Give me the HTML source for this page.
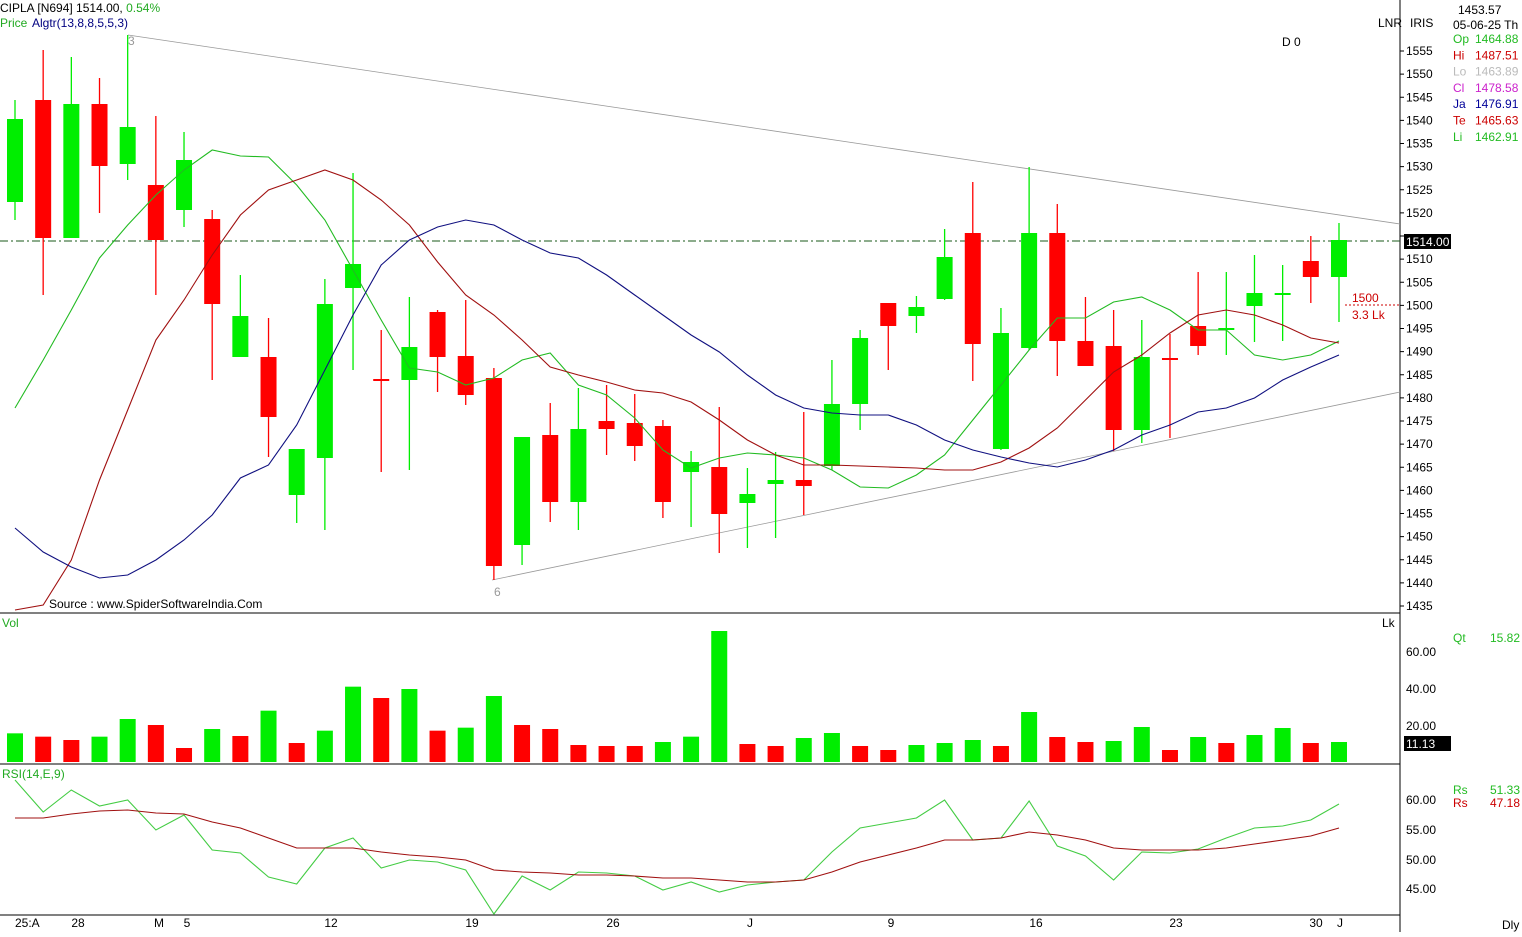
<!DOCTYPE html><html><head><meta charset="utf-8"><style>
body{margin:0;background:#fff;width:1522px;height:932px;overflow:hidden;font-family:"Liberation Sans",sans-serif}
svg text{font-family:"Liberation Sans",sans-serif;font-size:12px}
</style></head><body>
<svg id="s" width="1522" height="932" xmlns="http://www.w3.org/2000/svg"></svg>
<script>
const s=document.getElementById('s');let h='';
const X=[];for(let i=0;i<48;i++)X.push(15+i*28.17);
const G='#00ee00',R='#ff0000';
// candles: bodyTop, bodyBot, wickTop, wickBot, color
const C=[[119,202,100,220,G],[100,238,50,295,R],[104,238,57,238,G],[104,166,78,213,R],[127,164,35,180,G],[185,240,116,295,R],[160,210,132,227,G],[219,304,210,380,R],[316,357,275,357,G],[357,417,318,457,R],[449,495,449,523,G],[304,458,279,530,G],[264,288,173,370,G],[379,381,330,472,R],[347,380,297,470,G],[312,357,310,392,R],[356,395,300,405,R],[378,566,368,580,R],[437,545,437,565,G],[435,502,403,522,R],[429,502,388,530,G],[421,429,385,455,R],[423,446,394,461,R],[426,502,420,518,R],[462,472,451,527,G],[467,514,407,553,R],[494,503,468,548,G],[480,484,452,538,G],[480,486,412,515,R],[404,466,360,470,G],[338,404,330,430,G],[303,326,303,370,R],[307,316,296,333,G],[257,299,229,300,G],[233,344,182,381,R],[333,449,308,450,G],[233,348,167,350,G],[233,341,204,376,R],[341,366,297,366,R],[346,430,310,451,R],[357,430,320,443,G],[358,360,334,438,R],[326,346,272,355,R],[328,330,272,355,G],[293,306,255,342,G],[293,295,265,341,G],[261,277,236,303,R],[240,277,223,322,G]];
// frames
h+='<line x1="0" y1="613" x2="1400" y2="613" stroke="#000"/><line x1="0" y1="764" x2="1400" y2="764" stroke="#000"/><line x1="0" y1="915" x2="1400" y2="915" stroke="#000"/><line x1="1400" y1="0" x2="1400" y2="932" stroke="#000"/>';
// trendlines
h+='<line x1="128" y1="35" x2="1400" y2="224" stroke="#999" stroke-width="0.8"/><line x1="492" y1="580" x2="1400" y2="392" stroke="#999" stroke-width="0.8"/>';
h+='<line x1="0" y1="241" x2="1400" y2="241" stroke="#1a5a1a" stroke-dasharray="8,3,2,3"/>';
function pl(p,c){return '<polyline fill="none" stroke="'+c+'" stroke-width="1.1" points="'+p.map((v,i)=>X[i].toFixed(1)+','+v).join(' ')+'"/>';}
const GL=[408,360,310,258,225,195,170,150,156,157,185,220,270,320,368,372,385,378,360,353,385,395,418,450,468,458,453,455,458,470,487,488,475,455,420,385,350,318,318,302,297,310,330,330,355,360,355,341];
const RL=[610,605,560,480,410,340,300,255,215,190,180,170,180,200,225,262,295,315,340,367,375,382,390,393,402,420,440,455,465,465,466,467,468,470,470,462,448,428,400,372,355,333,315,310,315,325,338,343];
const BL=[528,552,567,578,575,560,540,515,478,465,425,370,315,265,240,227,220,225,240,253,258,275,295,315,335,352,375,395,408,413,415,415,425,440,450,457,463,467,460,450,435,425,412,408,398,380,367,355];
C.forEach((c,i)=>{const x=X[i];h+='<line x1="'+x+'" y1="'+c[2]+'" x2="'+x+'" y2="'+c[3]+'" stroke="'+c[4]+'" stroke-width="1.3"/>';h+='<rect x="'+(x-8)+'" y="'+c[0]+'" width="16" height="'+Math.max(2,c[1]-c[0])+'" fill="'+c[4]+'"/>';});
h+=pl(GL,'#22bb22')+pl(RL,'#a01010')+pl(BL,'#101080');
// volume
const V=[[340,G],[350,R],[360,R],[350,G],[297,G],[315,R],[384,R],[327,G],[348,R],[272,G],[369,R],[332,G],[200,G],[234,R],[207,G],[332,R],[323,G],[228,G],[315,R],[327,R],[375,R],[378,R],[378,R],[366,G],[350,G],[33,G],[372,R],[378,R],[354,G],[339,G],[378,R],[390,R],[375,G],[369,G],[360,G],[378,R],[276,G],[351,R],[366,R],[363,G],[321,G],[390,R],[351,G],[369,R],[345,G],[324,G],[369,R],[366,G]];
V.forEach((v,i)=>{const y=620+v[0]/3;h+='<rect x="'+(X[i]-8)+'" y="'+y+'" width="16" height="'+(762-y)+'" fill="'+v[1]+'"/>';});
// RSI
const RG=[780,812,790,806,800,830,815,850,853,877,884,848,838,868,860,862,870,914,876,890,872,873,876,890,882,892,885,882,880,852,828,823,818,800,840,838,801,846,856,880,852,853,849,838,828,826,820,804];
const RR=[818,818,814,811,810,813,814,822,828,838,848,848,848,852,855,857,860,870,872,873,875,875,876,878,878,880,882,882,880,872,862,855,848,840,840,838,832,835,840,848,850,850,850,848,844,840,836,828];
h+=pl(RG,'#44cc44')+pl(RR,'#a01010');
// right axis price
for(let p=1555;p>=1435;p-=5){const y=51+(1555-p)*4.625;h+='<line x1="1400" y1="'+y+'" x2="1404" y2="'+y+'" stroke="#000"/>';if(p!=1515)h+='<text x="1406" y="'+(y+4)+'">'+p+'</text>';}
h+='<rect x="1404" y="234" width="47" height="15" fill="#000"/><text x="1406" y="246" fill="#fff">1514.00</text>';
[[60,652],[40,689],[20,726]].forEach(a=>h+='<text x="1406" y="'+(a[1]+4)+'">'+a[0]+'.00</text>');
h+='<rect x="1404" y="736" width="47" height="15" fill="#000"/><text x="1406" y="748" fill="#fff">11.13</text>';
[[60,800],[55,830],[50,860],[45,889]].forEach(a=>h+='<text x="1406" y="'+(a[1]+4)+'">'+a[0]+'.00</text>');
// x labels
[['25:A',15],['28',78],['M',159],['5',187],['12',331],['19',472],['26',613],['J',750],['9',891],['16',1036],['23',1176],['30',1316],['J',1340]].forEach(a=>h+='<text x="'+a[1]+'" y="927" text-anchor="'+(a[0]=='25:A'?'start':'middle')+'">'+a[0]+'</text>');
h+='<text x="1502" y="929">Dly</text>';
// headers
h+='<text x="0" y="12">CIPLA [N694] 1514.00, <tspan fill="#22aa22">0.54%</tspan></text>';
h+='<text x="0" y="27" fill="#22aa22">Price</text><text x="32" y="27" fill="#000080">Algtr(13,8,8,5,5,3)</text>';
h+='<text x="49" y="608">Source : www.SpiderSoftwareIndia.Com</text>';
h+='<text x="2" y="627" fill="#22aa22">Vol</text><text x="2" y="778" fill="#22aa22">RSI(14,E,9)</text>';
h+='<text x="1382" y="627">Lk</text><text x="1378" y="27">LNR</text><text x="1410" y="27">IRIS</text><text x="1282" y="46">D 0</text>';
h+='<text x="128" y="45" fill="#999" font-size="11">3</text><text x="494" y="596" fill="#999" font-size="11">6</text>';
h+='<text x="1352" y="302" fill="#c00">1500</text><text x="1352" y="319" fill="#c00">3.3 Lk</text><line x1="1345" y1="305" x2="1400" y2="305" stroke="#c00" stroke-dasharray="2,2"/>';
h+='<text x="1458" y="14">1453.57</text><text x="1453" y="29">05-06-25 Th</text>';
[['Op','1464.88','#22bb22'],['Hi','1487.51','#cc0000'],['Lo','1463.89','#bbbbbb'],['Cl','1478.58','#cc22cc'],['Ja','1476.91','#000099'],['Te','1465.63','#cc0000'],['Li','1462.91','#22bb22']].forEach((a,i)=>{const y=43+i*16.3;h+='<text x="1453" y="'+y+'" fill="'+a[2]+'">'+a[0]+'</text><text x="1475" y="'+y+'" fill="'+a[2]+'">'+a[1]+'</text>';});
h+='<text x="1453" y="642" fill="#22bb22">Qt</text><text x="1490" y="642" fill="#22bb22">15.82</text>';
h+='<text x="1453" y="794" fill="#22bb22">Rs</text><text x="1490" y="794" fill="#22bb22">51.33</text><text x="1453" y="807" fill="#cc0000">Rs</text><text x="1490" y="807" fill="#cc0000">47.18</text>';
s.innerHTML=h;
</script></body></html>
